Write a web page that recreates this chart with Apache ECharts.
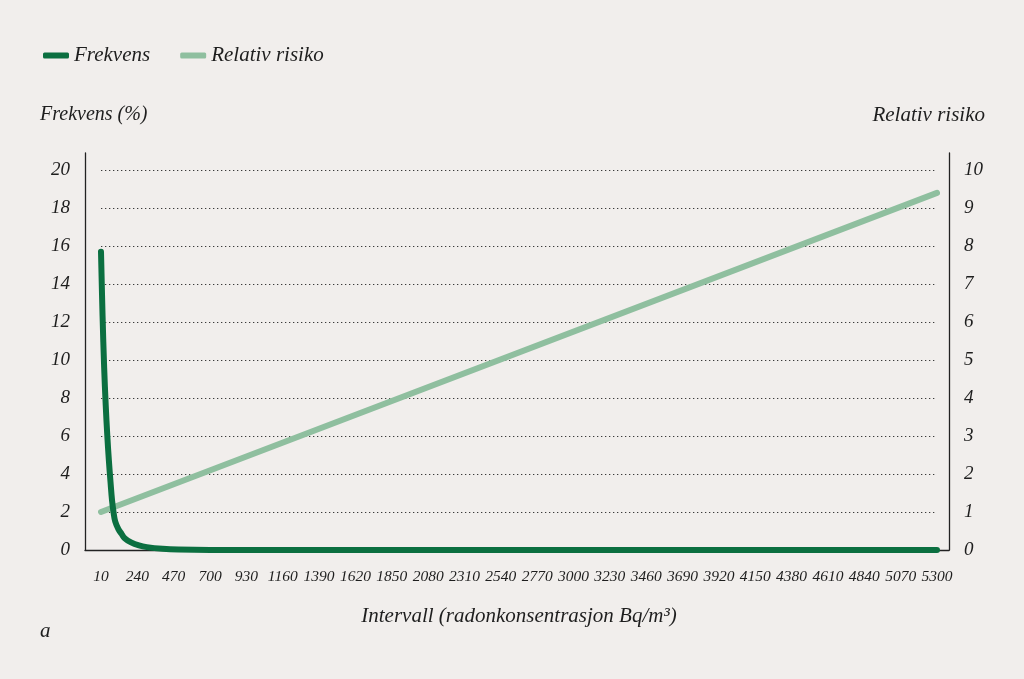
<!DOCTYPE html>
<html>
<head>
<meta charset="utf-8">
<script src="https://cdn.jsdelivr.net/npm/echarts@6/dist/echarts.min.js"></script>
<style>
html,body{margin:0;padding:0;background:#f1eeec;}
#c{width:1024px;height:679px;}
</style>
</head>
<body>
<div id="c"></div>
<script>
// Data
var frekvensX = [10, 20, 30, 40, 50, 60, 70, 80, 90, 100, 120, 140, 160, 200, 250, 300, 400, 500, 700, 5300];
var frekvensY = [15.7, 12.3, 9.6, 7.6, 6.0, 4.7, 3.6, 2.6, 1.95, 1.5, 1.1, 0.85, 0.62, 0.4, 0.24, 0.15, 0.06, 0.02, 0, 0];
var risikoX = [10, 5300];
var risikoY = [1.0, 9.4];
var xMin = 10, xMax = 5300, xStep = 230;
var seriesNames = ['Frekvens', 'Relativ risiko'];
var leftName = 'Frekvens (%)';
var rightName = 'Relativ risiko';
var xName = 'Intervall (radonkonsentrasjon Bq/m\u00B3)';

var FONT = '"Liberation Serif", "DejaVu Serif", serif';
var DARK = '#0b6f40';
var LIGHT = '#8fbf9f';
var TXT = '#1e1e1e';

function pairs(xs, ys){ return xs.map(function(x,i){ return [x, ys[i]]; }); }

var chart = echarts.init(document.getElementById('c'));
chart.setOption({
  backgroundColor: '#f1eeec',
  animation: false,
  legend: {
    left: 38, top: 40,
    itemWidth: 26, itemHeight: 6, itemGap: 30,
    icon: 'roundRect',
    textStyle: {fontFamily: FONT, fontStyle: 'italic', fontSize: 21, color: TXT},
    data: seriesNames
  },
  graphic: [
    {type: 'text', left: 40, top: 105, style: {text: leftName, font: 'italic 20px ' + FONT, fill: TXT}},
    {type: 'text', right: 39, top: 105, style: {text: rightName, font: 'italic 21px ' + FONT, fill: TXT}},
    {type: 'text', left: 40, top: 621, style: {text: 'a', font: 'italic 21px ' + FONT, fill: TXT}}
  ],
  grid: [
    {left: 101, right: 87, top: 153, bottom: 129},
    {left: 85, right: 75, top: 153, bottom: 129}
  ],
  xAxis: [
    {
      type: 'value', gridIndex: 0, min: xMin, max: xMax, interval: xStep,
      axisLine: {show: false}, axisTick: {show: false}, splitLine: {show: false},
      axisLabel: {fontFamily: FONT, fontStyle: 'italic', fontSize: 15.5, color: TXT, margin: 19,
        formatter: function(v){ return String(v); }},
      name: xName, nameLocation: 'middle', nameGap: 56,
      nameTextStyle: {fontFamily: FONT, fontStyle: 'italic', fontSize: 21, color: TXT}
    },
    {
      type: 'value', gridIndex: 1, min: 0, max: 1,
      axisLine: {show: true, lineStyle: {color: '#222', width: 1.3}},
      axisTick: {show: false}, axisLabel: {show: false}, splitLine: {show: false}
    }
  ],
  yAxis: [
    {
      type: 'value', gridIndex: 0, position: 'left', min: 0, max: 20.9, interval: 2,
      axisLine: {show: false}, axisTick: {show: false}, axisLabel: {show: false},
      splitLine: {show: true, showMinLine: false, showMaxLine: false,
        lineStyle: {color: '#3a3a3a', width: 1.2, type: [1.3, 2.7]}}
    },
    {
      type: 'value', gridIndex: 0, position: 'right', min: 0, max: 10.45, interval: 1,
      axisLine: {show: false}, axisTick: {show: false}, axisLabel: {show: false}, splitLine: {show: false}
    },
    {
      type: 'value', gridIndex: 1, position: 'left', min: 0, max: 20.9, interval: 2,
      axisLine: {show: true, lineStyle: {color: '#222', width: 1.3}},
      axisTick: {show: false}, splitLine: {show: false},
      axisLabel: {showMaxLabel: false, fontFamily: FONT, fontStyle: 'italic', fontSize: 19, color: TXT, margin: 15}
    },
    {
      type: 'value', gridIndex: 1, position: 'right', min: 0, max: 10.45, interval: 1,
      axisLine: {show: true, lineStyle: {color: '#222', width: 1.3}},
      axisTick: {show: false}, splitLine: {show: false},
      axisLabel: {showMaxLabel: false, fontFamily: FONT, fontStyle: 'italic', fontSize: 19, color: TXT, margin: 15}
    }
  ],
  series: [
    {
      name: seriesNames[1], type: 'line', xAxisIndex: 0, yAxisIndex: 1,
      data: pairs(risikoX, risikoY), showSymbol: false, symbol: 'none',
      lineStyle: {color: LIGHT, width: 6, cap: 'round'}, itemStyle: {color: LIGHT}, z: 2
    },
    {
      name: seriesNames[0], type: 'line', xAxisIndex: 0, yAxisIndex: 0,
      data: pairs(frekvensX, frekvensY), smooth: 0.4, showSymbol: false, symbol: 'none',
      lineStyle: {color: DARK, width: 6, cap: 'round', join: 'round'}, itemStyle: {color: DARK}, z: 3
    }
  ]
});
</script>
</body>
</html>
